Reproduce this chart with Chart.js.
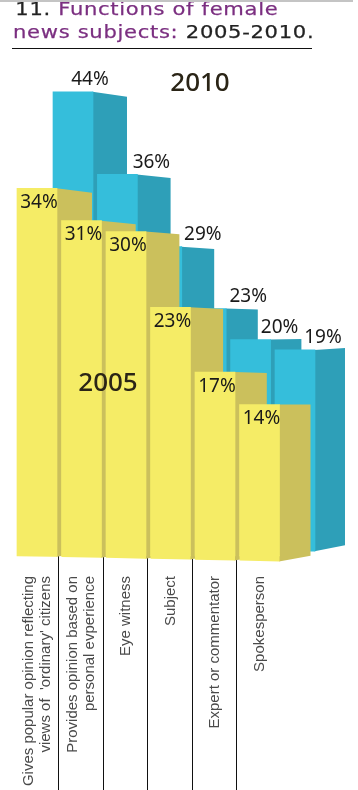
<!DOCTYPE html>
<html>
<head>
<meta charset="utf-8">
<style>
  html, body { margin: 0; padding: 0; background: #fff; }
  body { width: 358px; height: 790px; position: relative; overflow: hidden; }
  #topline { position: absolute; left: 0; top: 0; width: 353px; height: 2px; background: #c4c4c4; z-index: 2; }
  #rule { position: absolute; left: 12px; top: 48px; width: 300px; height: 1px; background: #111; }
  #title {
    position: absolute; left: 13px; top: -3px; z-index: 1; color: #7b2f80;
    font: 18.5px/23px "DejaVu Sans", sans-serif; letter-spacing: 0.6px; white-space: nowrap;
    transform: scaleX(1.14); transform-origin: left top; -webkit-text-stroke: 0.25px currentColor;
  }
  #title span { color: #222; }
  #title .first { margin-left: 2px; }
  #chart { position: absolute; left: 0; top: 0; }
</style>
</head>
<body>
<div id="topline"></div>
<div id="title"><span class="first">11.</span> Functions of female<br>news subjects: <span>2005-2010.</span></div>
<div id="rule"></div>
<div style="position:absolute;left:0;top:0;width:358px;height:790px"><canvas id="chart"></canvas></div>
<script src="https://cdn.jsdelivr.net/npm/chart.js@4"></script>
<script>
// Data
const categories = [
  ["Gives popular opinion reflecting", "views of  'ordinary' citizens"],
  ["Provides opinion based on", "personal evperience"],
  "Eye witness",
  "Subject",
  "Expert or commentator",
  "Spokesperson",
];
const values2005 = [34, 31, 30, 23, 17, 14];
const values2010 = [44, 36, 29, 23, 20, 19];

// 3D look per series
const look = {
  "2005": { side: "#cbc05c", depth: (i) => 35 - i * 0.8, drop: (i) => 4.5 - i * 0.9, rise: 5.7, skew: 0.0205 },
  "2010": { side: "#2e9fb8", depth: (i) => 34 - i * 0.8, drop: (i) => 5 - i * 1.4, rise: 6, skew: 0 },
};
// 2010 labels sit to the right of their bars, over the side face
const shift2010 = [17, 34, 41, 42, 29, 28];

const poly = (ctx, pts, color) => {
  ctx.fillStyle = color;
  ctx.beginPath();
  pts.forEach((p, n) => (n ? ctx.lineTo(p[0], p[1]) : ctx.moveTo(p[0], p[1])));
  ctx.closePath();
  ctx.fill();
};

// Draws bars one at a time so each side face goes under the next bar
const blocks = {
  id: "blocks",
  beforeDatasetDraw(chart, args) {
    const ctx = chart.ctx;
    const ds = chart.data.datasets[args.index];
    const st = look[ds.label];
    args.meta.data.forEach((el, i) => {
      const l = el.x - el.width / 2, r = el.x + el.width / 2;
      const bl = el.base + (l - 17) * st.skew, br = el.base + (r - 17) * st.skew;
      poly(ctx, [
        [r - 0.5, el.y], [r + st.depth(i), el.y + st.drop(i)],
        [r + st.depth(i), br - st.rise], [r - 0.5, br],
      ], st.side);
      el.draw(ctx);
      if (st.skew) poly(ctx, [[l, el.base - 1], [r, el.base - 1], [r, br], [l, bl]], ds.backgroundColor);
    });
    return false;
  },
  beforeDatasetsDraw(chart) {
    const ctx = chart.ctx, sx = chart.scales.x;
    ctx.strokeStyle = "#111";
    ctx.lineWidth = 1;
    for (let i = 0; i < categories.length - 1; i++) {
      const x = Math.round(sx.getPixelForValue(i + 0.5)) - 0.5;
      ctx.beginPath();
      ctx.moveTo(x, chart.chartArea.bottom);
      ctx.lineTo(x, 790);
      ctx.stroke();
    }
  },
  afterDatasetsDraw(chart) {
    const ctx = chart.ctx;
    ctx.textAlign = "center";
    ctx.textBaseline = "middle";
    ctx.fillStyle = "#1a1a1a";
    ctx.font = '19px "Noto Sans", sans-serif';
    chart.getDatasetMeta(0).data.forEach((el, i) => {
      ctx.fillText(values2005[i] + "%", el.x + 2, el.y + 14);
    });
    chart.getDatasetMeta(1).data.forEach((el, i) => {
      ctx.fillText(values2010[i] + "%", el.x + shift2010[i], el.y - 12);
    });
    ctx.font = '500 26px "Noto Sans", sans-serif';
    ctx.fillStyle = "#2a2416";
    ctx.fillText("2005", 108, 384);
    ctx.fillText("2010", 200, 84);
  },
};

new Chart(document.getElementById("chart"), {
  type: "bar",
  data: {
    datasets: [
      {
        label: "2005",
        data: values2005.map((y, x) => ({ x, y })),
        backgroundColor: "#f5ec66",
        xAxisID: "x",
        yAxisID: "y",
        order: 0,
        barThickness: 40,
        grouped: false,
      },
      {
        label: "2010",
        data: values2010.map((y, x) => ({ x, y })),
        backgroundColor: "#35bedb",
        xAxisID: "x2",
        yAxisID: "y2",
        base: -0.5,
        order: 1,
        barThickness: 40,
        grouped: false,
      },
    ],
  },
  options: {
    responsive: true,
    maintainAspectRatio: false,
    animation: false,
    layout: { autoPadding: false },
    plugins: { legend: { display: false }, tooltip: { enabled: false } },
    scales: {
      x: {
        type: "linear",
        offset: false,
        min: -0.831,
        max: 7.213,
        grid: { display: false },
        border: { display: false },
        // two-line labels start at the tick, so nudge those ticks to centre them
        afterBuildTicks: (scale) => {
          scale.ticks = categories.map((c, i) => ({ value: Array.isArray(c) ? i - 0.19 : i }));
        },
        afterFit: (scale) => { scale.height = 234; },
        ticks: {
          autoSkip: false,
          minRotation: 90,
          maxRotation: 90,
          padding: 12,
          color: "#4a4a4a",
          font: { family: '"Liberation Sans", sans-serif', size: 15, lineHeight: 1.13 },
          callback: (v) => categories[Math.round(v)],
        },
      },
      x2: { type: "linear", display: false, offset: false, min: -1.644, max: 6.419 },
      y: { display: false, min: 0, max: 51.4 },
      y2: { display: false, min: -0.97, max: 52.9 },
    },
  },
  plugins: [blocks],
});
</script>
</body>
</html>
